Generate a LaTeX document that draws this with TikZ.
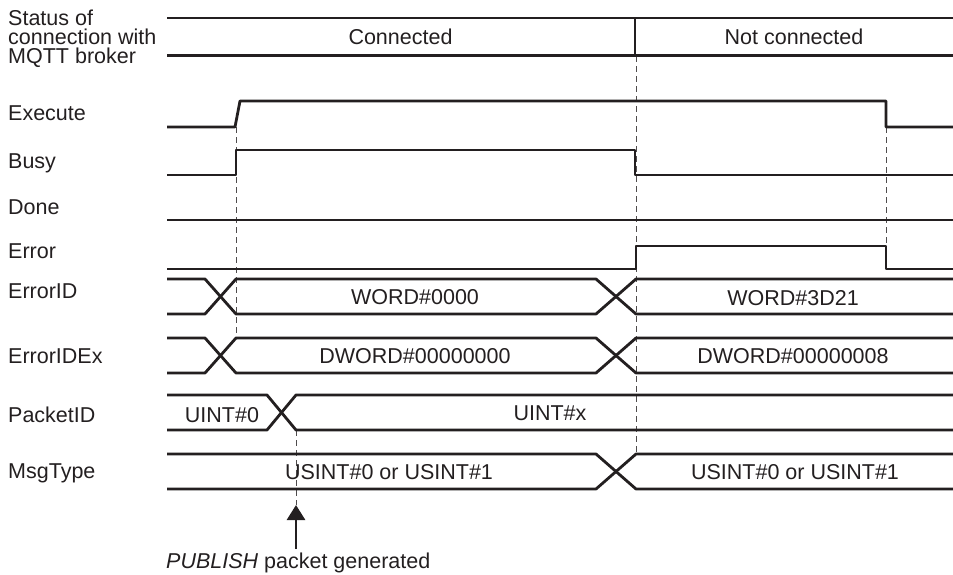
\documentclass[tikz,border=0pt]{standalone}
\usepackage{fontspec}
\setmainfont{Liberation Sans}
\usetikzlibrary{arrows.meta}
\definecolor{ink}{HTML}{231F20}
\begin{document}
\begin{tikzpicture}[x=1pt,y=-1pt,
  sig/.style={line width=2.8pt, draw=ink, line join=round},
  guide/.style={draw=ink!80, line width=0.9pt, dash pattern=on 6pt off 4pt},
  lbl/.style={anchor=base west, inner sep=0pt, text=ink, font=\fontsize{21.5}{19}\selectfont},
  val/.style={anchor=base, inner sep=0pt, text=ink, font=\fontsize{21.5}{19}\selectfont}]
\useasboundingbox (0,0) rectangle (953,574);

% guide lines
\draw[guide] (236,127) -- (236,338);
\draw[guide] (636,56) -- (636,454);
\draw[guide] (886,127) -- (886,246);
\draw[guide] (296,430) -- (296,505);

% status of connection
\draw[sig] (167,18) -- (953,18);
\draw[sig] (167,55.5) -- (953,55.5);
\draw[sig] (635,18) -- (635,55.5);
% Execute
\draw[sig] (167,127) -- (235,127) -- (240,101) -- (886,101) -- (886,127) -- (953,127);
% Busy
\draw[sig] (167,175) -- (236,175) -- (236,150) -- (635,150) -- (635,175) -- (953,175);
% Done
\draw[sig] (167,220) -- (953,220);
% Error
\draw[sig] (167,269) -- (636,269) -- (636,246) -- (886,246) -- (886,269) -- (953,269);
% ErrorID
\draw[sig] (167,279) -- (205,279) -- (236,314) -- (596,314) -- (636,279) -- (953,279);
\draw[sig] (167,314) -- (205,314) -- (236,279) -- (596,279) -- (636,314) -- (953,314);
% ErrorIDEx
\draw[sig] (167,338) -- (205,338) -- (236,373) -- (596,373) -- (636,338) -- (953,338);
\draw[sig] (167,373) -- (205,373) -- (236,338) -- (596,338) -- (636,373) -- (953,373);
% PacketID
\draw[sig] (167,395) -- (267,395) -- (296,430) -- (953,430);
\draw[sig] (167,430) -- (267,430) -- (296,395) -- (953,395);
% MsgType
\draw[sig] (167,454) -- (596,454) -- (636,489) -- (953,489);
\draw[sig] (167,489) -- (596,489) -- (636,454) -- (953,454);

% arrow
\coordinate (tail) at (296,549);
\coordinate (tip) at (296,505);
\draw[line width=2.8pt, draw=ink, fill=ink, -{Triangle[width=18pt,length=15pt]}] (tail) -- (tip);

% signal labels
\node[lbl, align=left] (lstat) at (8,63) {Status of\\connection with\\MQTT broker};
\node[lbl] (lexec) at (8,120) {Execute};
\node[lbl] (lbusy) at (8,168) {Busy};
\node[lbl] (ldone) at (8,214) {Done};
\node[lbl] (lerr) at (8,258) {Error};
\node[lbl] (lerrid) at (8,298) {ErrorID};
\node[lbl] (lerridex) at (8,363) {ErrorIDEx};
\node[lbl] (lpid) at (8,422) {PacketID};
\node[lbl] (lmsg) at (8,478) {MsgType};

% values
\node[val] (v1) at (400.5,44) {Connected};
\node[val] (v2) at (794,44) {Not connected};
\node[val] (v3) at (415,304) {WORD\#0000};
\node[val] (v4) at (793,305) {WORD\#3D21};
\node[val] (v5) at (415,363) {DWORD\#00000000};
\node[val] (v6) at (793,363) {DWORD\#00000008};
\node[val] (v7) at (222,422) {UINT\#0};
\node[val] (v8) at (550,420) {UINT\#x};
\node[val] (v9) at (389,479) {USINT\#0 or USINT\#1};
\node[val] (v10) at (795,479) {USINT\#0 or USINT\#1};
\node[lbl] (note) at (166,568) {\itshape PUBLISH\upshape{} packet generated};
\end{tikzpicture}
\end{document}
